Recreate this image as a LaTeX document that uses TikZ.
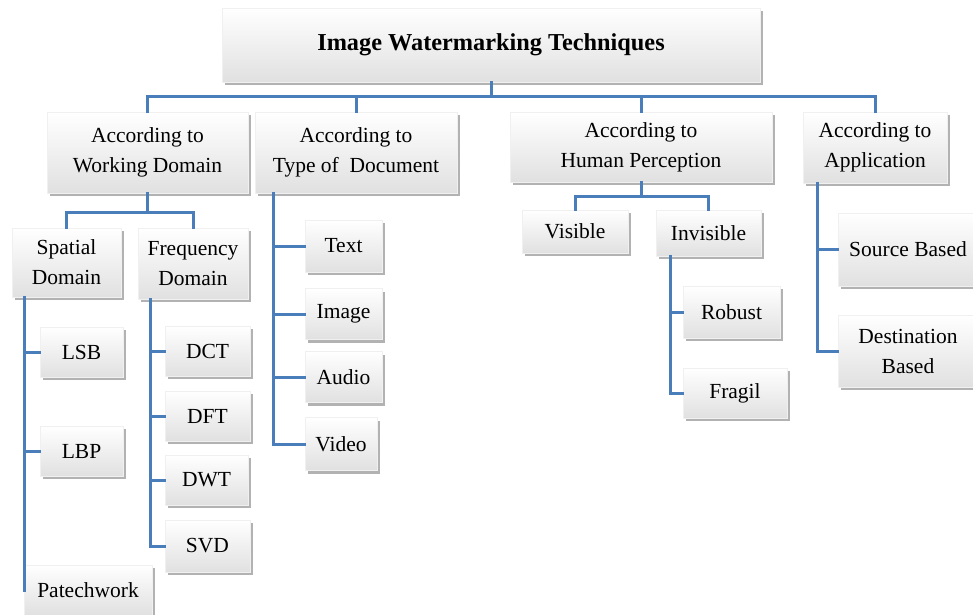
\documentclass[tikz,border=0pt]{standalone}
\usepackage{fontspec}
\setmainfont{Liberation Serif}
\usetikzlibrary{shadows}
\definecolor{lnblue}{HTML}{4A7EBB}
\tikzset{
  bx/.style={inner sep=0pt, align=center, top color=white, bottom color=black!12,
    draw=black!6, line width=0.3pt,
    drop shadow={shadow xshift=2.5pt, shadow yshift=-3pt, opacity=0.3, fill=black},
    font=\fontsize{21.5}{30}\selectfont},
  ln/.style={draw=lnblue, line width=3pt, line cap=rect},
}
\newcommand{\bxnode}[6]{\node[bx, minimum width=#4pt, minimum height=#5pt] (#1) at (#2,#3) {#6};}
\begin{document}
\begin{tikzpicture}[x=1pt,y=-1pt]
\useasboundingbox (0,0) rectangle (973,614);
% nodes
\bxnode{title}{491}{45}{538}{74}{\fontsize{24.3}{29}\selectfont\bfseries Image Watermarking Techniques}
\bxnode{wd}{147.5}{152.5}{201}{81}{According to\\Working Domain}
\bxnode{td}{356}{152.5}{202}{81}{According to\\Type of~ Document}
\bxnode{hp}{641}{147}{262}{70}{According to\\Human Perception}
\bxnode{ap}{875}{147.5}{144}{71}{According to\\Application}
\bxnode{sp}{66.5}{262.5}{109}{69}{Spatial\\Domain}
\bxnode{fq}{193}{263.5}{110}{71}{Frequency\\Domain}
\bxnode{lsb}{81.5}{352}{83}{50}{LSB}
\bxnode{lbp}{81.5}{451}{83}{50}{LBP}
\bxnode{pw}{88}{590}{128}{50}{Patechwork}
\bxnode{dct}{207.5}{351}{85}{50}{DCT}
\bxnode{dft}{207.5}{416}{85}{50}{DFT}
\bxnode{dwt}{206.5}{480}{83}{50}{DWT}
\bxnode{svd}{207.5}{546}{85}{52}{SVD}
\bxnode{txt}{343.5}{246}{77}{52}{Text}
\bxnode{img}{343.5}{314}{77}{51}{Image}
\bxnode{aud}{343.5}{377}{77}{51}{Audio}
\bxnode{vid}{341}{444}{72}{53}{Video}
\bxnode{vis}{575}{231.5}{106}{43}{Visible}
\bxnode{inv}{708.5}{233}{105}{46}{Invisible}
\bxnode{rob}{731.5}{312}{97}{52}{Robust}
\bxnode{fra}{735}{393}{104}{50}{Fragil}
\bxnode{src}{908}{249.5}{140}{73}{Source Based}
\bxnode{dst}{908}{351}{140}{72}{Destination\\Based}
% spine coordinates
\coordinate (sps) at (24,0);
\coordinate (fqs) at (150,0);
\coordinate (tds) at (273,0);
\coordinate (ivs) at (670,0);
\coordinate (aps) at (817,0);
% connectors
\draw[ln] (title.south) -- (title.south |- 0,96);
\draw[ln] (wd.north) -- (wd.north |- 0,96) -| (ap.north);
\draw[ln] (td.north) -- (td.north |- 0,96);
\draw[ln] (hp.north) -- (hp.north |- 0,96);
\draw[ln] (wd.south) -- (wd.south |- 0,212);
\draw[ln] (sp.north) -- (sp.north |- 0,212) -| (fq.north);
\draw[ln] (sp.south -| sps) -- (pw.west -| sps);
\draw[ln] (lsb.west -| sps) -- (lsb.west);
\draw[ln] (lbp.west -| sps) -- (lbp.west);
\draw[ln] (fq.south -| fqs) |- (svd.west);
\draw[ln] (dct.west -| fqs) -- (dct.west);
\draw[ln] (dft.west -| fqs) -- (dft.west);
\draw[ln] (dwt.west -| fqs) -- (dwt.west);
\draw[ln] (td.south -| tds) |- (vid.west);
\draw[ln] (txt.west -| tds) -- (txt.west);
\draw[ln] (img.west -| tds) -- (img.west);
\draw[ln] (aud.west -| tds) -- (aud.west);
\draw[ln] (hp.south) -- (hp.south |- 0,196);
\draw[ln] (vis.north) -- (vis.north |- 0,196) -| (inv.north);
\draw[ln] (inv.south -| ivs) |- (fra.west);
\draw[ln] (rob.west -| ivs) -- (rob.west);
\draw[ln] (ap.south -| aps) |- (dst.west);
\draw[ln] (src.west -| aps) -- (src.west);
\end{tikzpicture}
\end{document}
